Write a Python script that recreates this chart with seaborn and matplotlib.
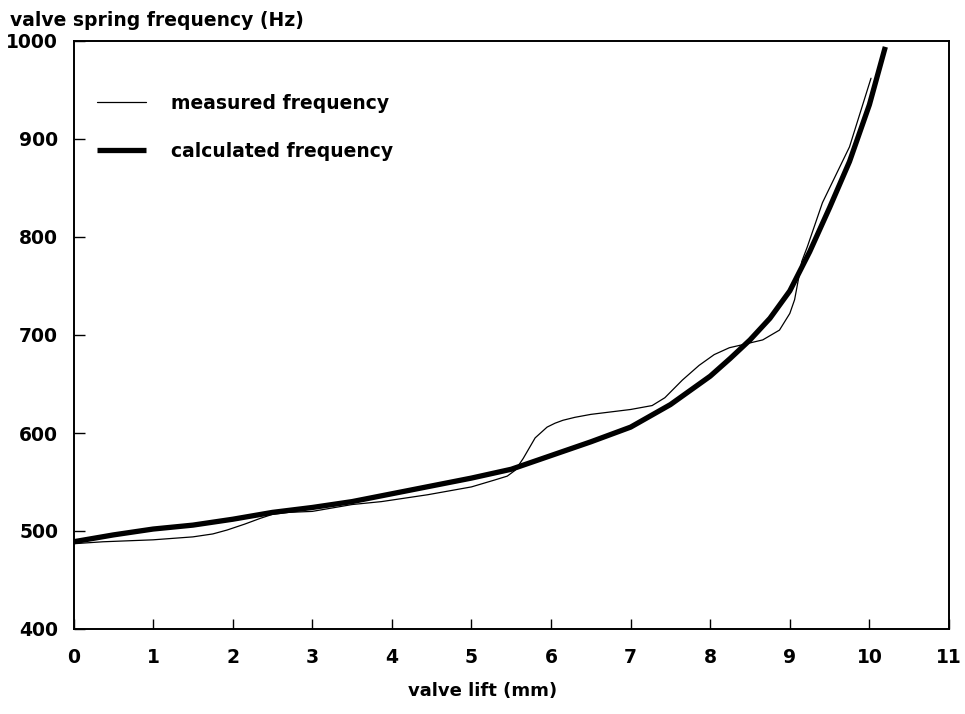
import matplotlib
matplotlib.use("Agg")
import matplotlib.pyplot as plt
import seaborn as sns
import pandas as pd

# --- data ---
calc_lift = [0, 0.5, 1, 1.5, 2, 2.5, 3, 3.5, 4, 4.5, 5, 5.5, 6, 6.5, 7, 7.5,
             8, 8.25, 8.5, 8.75, 9, 9.25, 9.5, 9.75, 10, 10.2]
calc_freq = [489, 496, 502, 506, 512, 519, 524, 530, 538, 546, 554, 563, 577,
             591, 606, 629, 658, 676, 695, 717, 745, 785, 830, 877, 935, 994]

meas_lift = [0, 0.37, 1.0, 1.5, 1.75, 1.93, 2.15, 2.35, 2.5, 2.7, 3.0, 3.5,
             3.87, 4.45, 5.0, 5.29, 5.45, 5.55, 5.65, 5.8, 5.95, 6.05, 6.15,
             6.3, 6.5, 7.0, 7.27, 7.43, 7.65, 7.86, 8.05, 8.24, 8.4, 8.66,
             8.87, 9.0, 9.06, 9.15, 9.22, 9.41, 9.75, 10.02]
meas_freq = [487, 489, 491, 494, 497, 501, 507, 513, 517, 519, 520, 527,
             530, 537, 545, 552, 556, 562, 574, 595, 606, 610, 613,
             616, 619, 624, 628, 636, 654, 669, 680, 687, 690, 695,
             705, 722, 736, 775, 790, 835, 892, 962]

x_ticks = list(range(0, 12))
y_ticks = [400, 500, 600, 700, 800, 900, 1000]

sns.set_style("white")
plt.rcParams["font.family"] = ["DejaVu Sans"]
plt.rcParams["text.color"] = "black"
plt.rcParams["xtick.color"] = "black"
plt.rcParams["ytick.color"] = "black"
plt.rcParams["axes.labelcolor"] = "black"

fig = plt.figure(figsize=(9.65, 7.14), dpi=100)
ax = fig.add_axes([73.5 / 965, 85 / 714, 875.5 / 965, 588 / 714])

df_m = pd.DataFrame({"lift": meas_lift, "freq": meas_freq})
df_c = pd.DataFrame({"lift": calc_lift, "freq": calc_freq})

sns.lineplot(data=df_m, x="lift", y="freq", ax=ax, color="black",
             linewidth=0.9, sort=False, label="measured frequency")
sns.lineplot(data=df_c, x="lift", y="freq", ax=ax, color="black",
             linewidth=3.8, sort=False, label="calculated frequency",
             solid_capstyle="butt")

ax.set_xlim(0, 11)
ax.set_ylim(400, 1000)
ax.set_xticks(x_ticks)
ax.set_yticks(y_ticks)
ax.set_xticklabels([str(t) for t in x_ticks])
ax.set_yticklabels([str(t) for t in y_ticks])

for s in ax.spines.values():
    s.set_visible(True)
    s.set_color("black")
    s.set_linewidth(1.4)

ax.tick_params(axis="x", direction="in", length=7, width=1, pad=14,
               labelsize=13.5, bottom=True, top=False, colors="black")
ax.tick_params(axis="y", direction="in", length=8, width=1, pad=11,
               labelsize=13.5, left=True, right=False, colors="black")
for lbl in ax.get_xticklabels() + ax.get_yticklabels():
    lbl.set_fontweight("bold")

ax.set_ylabel("")
ax.set_xlabel("valve lift (mm)", fontsize=13, fontweight="bold", color="black")
ax.xaxis.set_label_coords(0.467, -0.09)

fig.text(10 / 965, 1 - 20 / 714, "valve spring frequency (Hz)",
         fontsize=13.5, fontweight="bold", ha="left", va="center", color="black")

leg = ax.legend(loc="upper left", bbox_to_anchor=(0.027, 0.91),
                frameon=False, borderaxespad=0, borderpad=0,
                handlelength=2.6, handletextpad=1.35, labelspacing=1.55,
                prop={"size": 13.5, "weight": "bold"})
for t in leg.get_texts():
    t.set_color("black")

fig.savefig("out.png", dpi=100, facecolor="white")
